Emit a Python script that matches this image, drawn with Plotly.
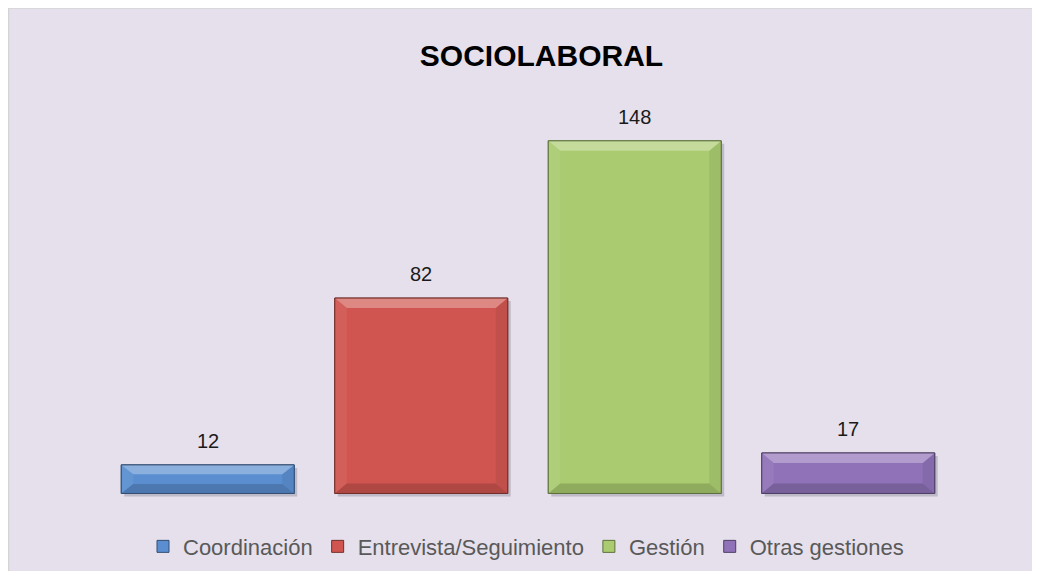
import plotly.graph_objects as go

# ---- data ----
categories = ["Coordinación", "Entrevista/Seguimiento", "Gestión", "Otras gestiones"]
values = [12, 82, 148, 17]
title_text = "SOCIOLABORAL"

# ---- styles ----
face_colors = ["#5A8ED0", "#D05550", "#AACB70", "#8F72B8"]
BG = "#E5E0EC"
BORDER = "#D4D4D4"
# figure sits at (8,8) in the page because of the body margin
W, H = 1024, 563
PLOT_L, PLOT_R = 93, 947
BASE_PX = 485
PX_PER_UNIT = 2.378
Y_MIN, Y_MAX = -4, 158
BAR_W = 0.81


def hex_to_rgb(h):
    h = h.lstrip("#")
    return tuple(int(h[i:i + 2], 16) for i in (0, 2, 4))


def mix(h, other, t):
    a = hex_to_rgb(h)
    b = hex_to_rgb(other)
    c = tuple(round(a[i] + (b[i] - a[i]) * t) for i in range(3))
    return "rgb(%d,%d,%d)" % c


plot_top = BASE_PX - Y_MAX * PX_PER_UNIT
plot_bot = BASE_PX - Y_MIN * PX_PER_UNIT
n = len(categories)
x_unit_px = (PLOT_R - PLOT_L) / n
pw = PLOT_R - PLOT_L
ph = plot_bot - plot_top


def px_x(p):
    return (p - PLOT_L) / pw


def px_y(p):
    return (plot_bot - p) / ph


fig = go.Figure()
xs = list(range(n))
for i, (cat, v, col) in enumerate(zip(categories, values, face_colors)):
    fig.add_trace(go.Bar(
        x=[xs[i]], y=[v], name=cat, width=BAR_W,
        marker=dict(color=col, line=dict(color=mix(col, "#000000", 0.45), width=1)),
        hoverinfo="y",
    ))

shapes = []
# border along the chart edge
shapes.append(dict(type="rect", xref="paper", yref="paper",
                   x0=px_x(0.5), x1=px_x(W + 10), y0=px_y(0.5), y1=px_y(H + 10),
                   fillcolor="rgba(0,0,0,0)", line=dict(color=BORDER, width=1.5), layer="below"))

bx = 12 / x_unit_px
sx = 3 / x_unit_px
sy = 3 / PX_PER_UNIT
for i, (v, col) in enumerate(zip(values, face_colors)):
    x0 = xs[i] - BAR_W / 2
    x1 = xs[i] + BAR_W / 2
    by = min(10 / PX_PER_UNIT, v * 0.33)
    # soft drop shadow
    shapes.append(dict(type="rect", xref="x", yref="y", x0=x0 + sx, x1=x1 + sx,
                       y0=-sy, y1=v - sy, fillcolor="rgba(60,50,70,0.22)",
                       line=dict(width=0), layer="below"))
    top = f"M {x0},{v} L {x1},{v} L {x1 - bx},{v - by} L {x0 + bx},{v - by} Z"
    bot = f"M {x0},0 L {x1},0 L {x1 - bx},{by} L {x0 + bx},{by} Z"
    left = f"M {x0},0 L {x0},{v} L {x0 + bx},{v - by} L {x0 + bx},{by} Z"
    right = f"M {x1},0 L {x1},{v} L {x1 - bx},{v - by} L {x1 - bx},{by} Z"
    for path, c in ((left, mix(col, "#FFFFFF", 0.06)), (right, mix(col, "#000000", 0.07)),
                    (bot, mix(col, "#000000", 0.16)), (top, mix(col, "#FFFFFF", 0.30))):
        shapes.append(dict(type="path", xref="x", yref="y", path=path,
                           fillcolor=c, line=dict(width=0), layer="above"))
    shapes.append(dict(type="rect", xref="x", yref="y", x0=x0, x1=x1, y0=0, y1=v,
                       fillcolor="rgba(0,0,0,0)",
                       line=dict(color=mix(col, "#000000", 0.45), width=1), layer="above"))

annotations = []
for i, v in enumerate(values):
    annotations.append(dict(x=xs[i], y=v, xref="x", yref="y", text=str(v),
                            showarrow=False, yanchor="bottom", yshift=11,
                            font=dict(family="Liberation Sans, Arial", size=20, color="#1A1A1A")))

fig.update_layout(
    width=W, height=H,
    margin=dict(l=PLOT_L, r=W - PLOT_R, t=plot_top, b=H - plot_bot, pad=0, autoexpand=False),
    paper_bgcolor=BG,
    plot_bgcolor="rgba(0,0,0,0)",
    barmode="overlay",
    title=dict(text="<b>%s</b>" % title_text, x=px_x(533.5), xref="paper", xanchor="center",
               y=1 - 47 / H, yref="container", yanchor="middle",
               font=dict(family="Liberation Sans, Arial", size=30, color="#000000")),
    xaxis=dict(range=[-0.5, n - 0.5], visible=False, fixedrange=True),
    yaxis=dict(range=[Y_MIN, Y_MAX], visible=False, fixedrange=True),
    showlegend=True,
    legend=dict(orientation="h", x=px_x(518), xanchor="center", y=px_y(538), yanchor="middle",
                font=dict(family="Liberation Sans, Arial", size=22, color="#595959"),
                bgcolor="rgba(0,0,0,0)", itemwidth=30, traceorder="normal"),
    shapes=shapes,
    annotations=annotations,
)

fig.write_html("out.html")
